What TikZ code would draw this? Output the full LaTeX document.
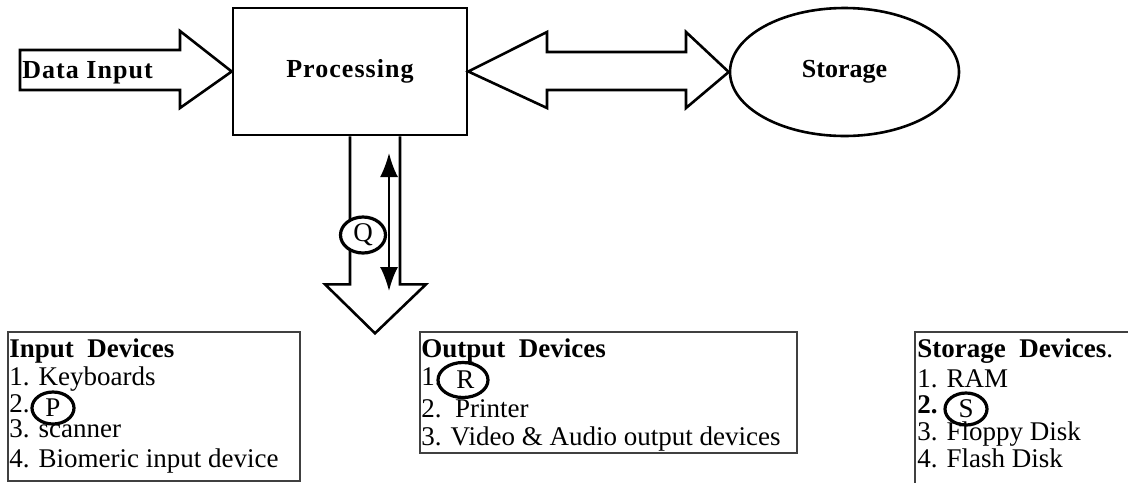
\documentclass[tikz,border=0pt]{standalone}
\usepackage{fontspec}
\setmainfont{Liberation Serif}
\newfontfamily\headfont{Liberation Serif}[LetterSpace=4]
\usetikzlibrary{shapes.geometric,arrows.meta}

\begin{document}
\begin{tikzpicture}
  [x=0.5pt,y=-0.5pt,
   blockarrow/.style={draw=black,line width=1.3pt,line join=miter},
   unit/.style={rectangle,draw=black,line width=1.3pt,inner sep=0,
                minimum width=117pt,minimum height=63.5pt,
                font=\headfont\bfseries\fontsize{13}{14}\selectfont},
   store/.style={ellipse,draw=black,line width=1.3pt,inner sep=0,
                 minimum width=114.5pt,minimum height=64pt,
                 font=\bfseries\fontsize{13}{14}\selectfont},
   title/.style={inner sep=0,font=\headfont\bfseries\fontsize{13}{14}\selectfont},
   listbox/.style={rectangle,draw=black!75,line width=0.8pt,inner sep=0},
   item/.style={anchor=base west,inner sep=0,font=\fontsize{13.5}{14}\selectfont},
   itemhead/.style={item,font=\bfseries\fontsize{13.5}{14}\selectfont},
   ringed/.style={ellipse,draw=black,line width=1.6pt,inner sep=0,
                  minimum width=21pt,minimum height=17pt,
                  font=\fontsize{13.5}{14}\selectfont}]
  \useasboundingbox (0,0) rectangle (1128,483);
  % top row
  \node[unit] (proc) at (350,71.5) {Processing};
  \node[store] (stor) at (844.5,72) {Storage};
  \draw[blockarrow] (20,50) -- (180,50) -- (180,31) -- (proc.west)
    -- (180,108) -- (180,90) -- (20,90) -- cycle;
  \node[title,anchor=base west] (datain) at (22,78) {Data Input};
  \draw[blockarrow] (proc.east) -- (547,32) -- (547,52) -- (686,52) -- (686,32)
    -- (stor.west) -- (686,108) -- (686,90) -- (547,90) -- (547,108) -- cycle;
  % output arrow
  \draw[blockarrow] (proc.south) -- ++(0,148) -- ++(-25,0)
    -- ++(50,49) coordinate (outtip) -- ++(51,-49) -- ++(-26,0)
    -- ([xshift=25pt]proc.south);
  \coordinate (qtop) at (389,153);
  \coordinate (qbot) at (389,291);
  \draw[line width=1pt,{Latex[length=12pt,width=9pt]}-{Latex[length=12pt,width=9pt]}]
    (qtop) -- (qbot);
  \node[ringed,fill=white,minimum width=22.5pt,minimum height=18pt] (q) at (363,235) {Q};
  % device lists
  \node[listbox,minimum width=146pt,minimum height=74.5pt] (inbox) at (154,406.5) {};
  \node[listbox,minimum width=188.5pt,minimum height=60.5pt] (outbox) at (608.5,392.5) {};
  \coordinate (stnw) at (915,332);
  \draw[draw=black!75,line width=0.8pt] (1128,332) -- (stnw) -- (915,483);
  \node[itemhead] (inhead) at (9,357) {Input\ \ Devices};
  \node[item] (in1) at (9,385) {1. Keyboards};
  \node[item] (in2) at (9,412) {2.};
  \node[item] (in3) at (9,437) {3. scanner};
  \node[item] (in4) at (9,467) {4. Biomeric input device};
  \node[ringed,minimum height=16pt] (p) at (53,408) {P};
  \node[itemhead] (outhead) at (421,357) {Output\ \ Devices};
  \node[item] (out1) at (421,385) {1.};
  \node[item] (out2) at (421,417) {2.\ \ Printer};
  \node[item] (out3) at (421,445) {3. Video \& Audio output devices};
  \node[ringed,minimum width=25pt,minimum height=17.5pt] (r) at (463,380) {\,R};
  \node[itemhead] (sthead) at (917,357) {Storage\ \ Devices{\mdseries .}};
  \node[item] (st1) at (917,387) {1. RAM};
  \node[item] (st2) at (917,413) {\textbf{2.}};
  \node[item] (st3) at (917,440) {3. Floppy Disk};
  \node[item] (st4) at (917,467) {4. Flash Disk};
  \node[ringed,minimum height=16pt] (s) at (966,409) {S};
\end{tikzpicture}
\end{document}
